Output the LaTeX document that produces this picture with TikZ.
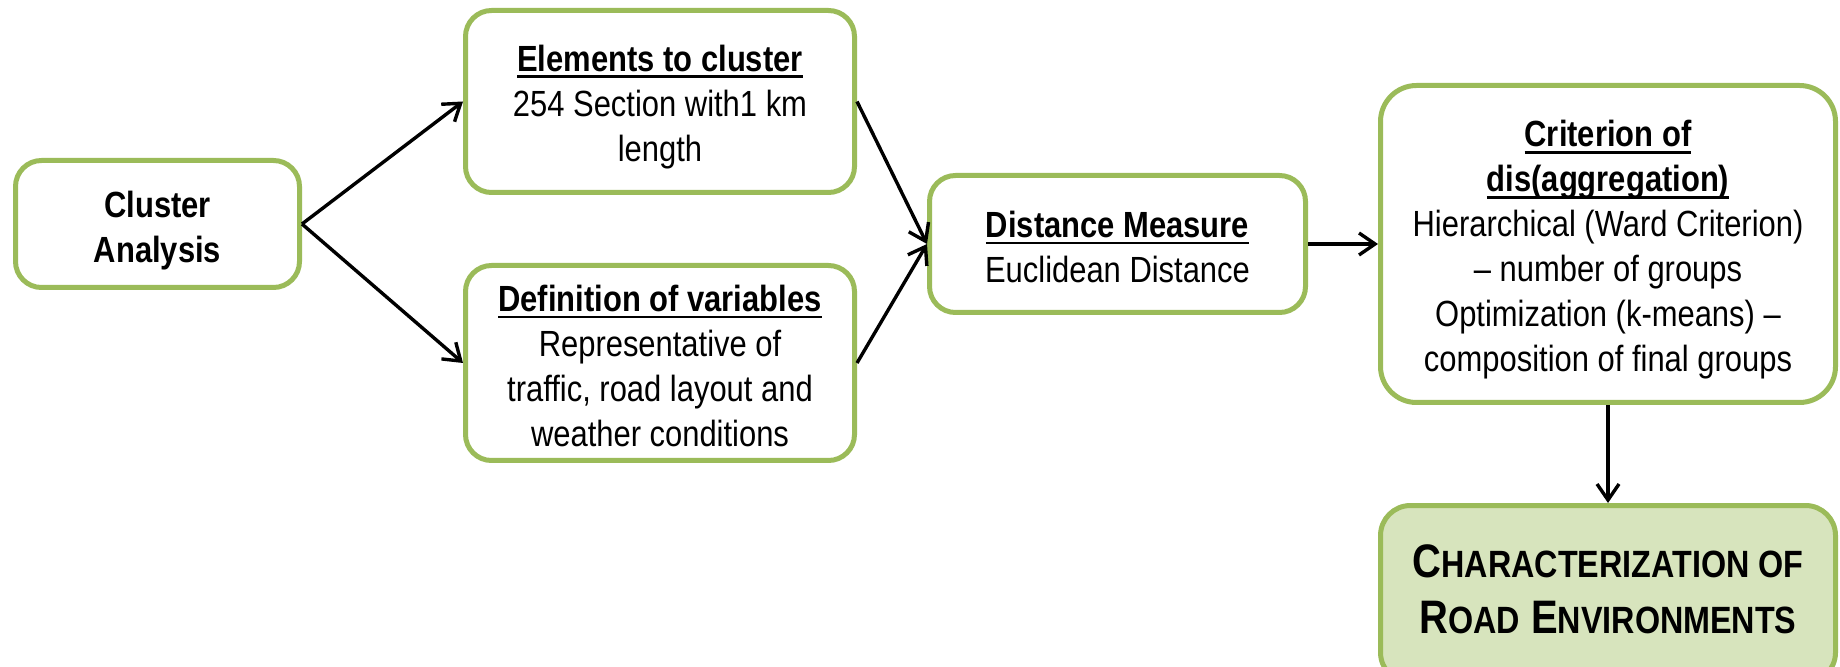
\documentclass[tikz,border=0pt]{standalone}
\usepackage{fontspec}
\setmainfont[FakeStretch=0.85]{Liberation Sans}
\usetikzlibrary{arrows.meta}
\definecolor{boxgreen}{HTML}{9BBB59}
\definecolor{boxfill}{HTML}{D7E4BD}
\newcommand{\ulbox}[1]{\setbox0\hbox{#1}\rlap{\rule[-3.6pt]{\wd0}{1.4pt}}\box0}
\newcommand{\topgap}[1]{\rule{0pt}{#1}}
\tikzset{
  stepbox/.style={draw=boxgreen, line width=2.5pt, rounded corners=13pt, fill=white,
    align=center, inner sep=0pt, font=\fontsize{18.2}{22.5}\selectfont},
  finalbox/.style={stepbox, fill=boxfill, font=\fontsize{23.5}{28}\selectfont\bfseries},
  conn/.style={line width=1.7pt, -{Straight Barb[length=8pt,width=11pt,line width=1.7pt]}}
}
\begin{document}
\begin{tikzpicture}[x=0.5pt,y=-0.5pt]
\useasboundingbox (0,0) rectangle (1840,667);
\begin{scope}
\clip (0,0) rectangle (1840,667);
\node[stepbox, minimum width=142pt, minimum height=63.5pt] (clu) at (157.5,224)
  {\topgap{19.3pt}\textbf{Cluster}\\\textbf{Analysis}};
\node[stepbox, minimum width=194.5pt, minimum height=91pt] (elem) at (660,101.5)
  {\topgap{18.3pt}\textbf{\ulbox{Elements to cluster}}\\254 Section with1 km\\length};
\node[stepbox, minimum width=194.5pt, minimum height=97.5pt] (def) at (660,363)
  {\topgap{15.8pt}\textbf{\ulbox{Definition of variables}}\\Representative of\\traffic, road layout and\\weather conditions};
\node[stepbox, minimum width=188pt, minimum height=68.5pt] (dist) at (1117.5,244)
  {\topgap{15.8pt}\textbf{\ulbox{Distance Measure}}\\Euclidean Distance};
\node[stepbox, rounded corners=18pt, minimum width=227.5pt, minimum height=158.5pt] (crit) at (1608,244)
  {\topgap{18.8pt}\textbf{\ulbox{Criterion of}}\\\textbf{\ulbox{dis(aggregation)}}\\Hierarchical (Ward Criterion)\\-- number of groups\\Optimization (k-means) --\\composition of final groups};
\node[finalbox, rounded corners=15pt, minimum width=227.5pt, minimum height=88.5pt] (char) at (1608,594)
  {C{\fontsize{19}{28}\selectfont HARACTERIZATION OF}\\R{\fontsize{19}{28}\selectfont OAD} E{\fontsize{19}{28}\selectfont NVIRONMENTS}\rule[-5pt]{0pt}{5pt}};
\end{scope}
\draw[conn] (clu.east) -- (elem.west);
\draw[conn] (clu.east) -- (def.west);
\draw[conn] (elem.east) -- (dist.west);
\draw[conn] (def.east) -- (dist.west);
\draw[conn] (dist.east) -- (crit.west);
\draw[conn] (crit.south) -- (char.north);
\end{tikzpicture}
\end{document}
